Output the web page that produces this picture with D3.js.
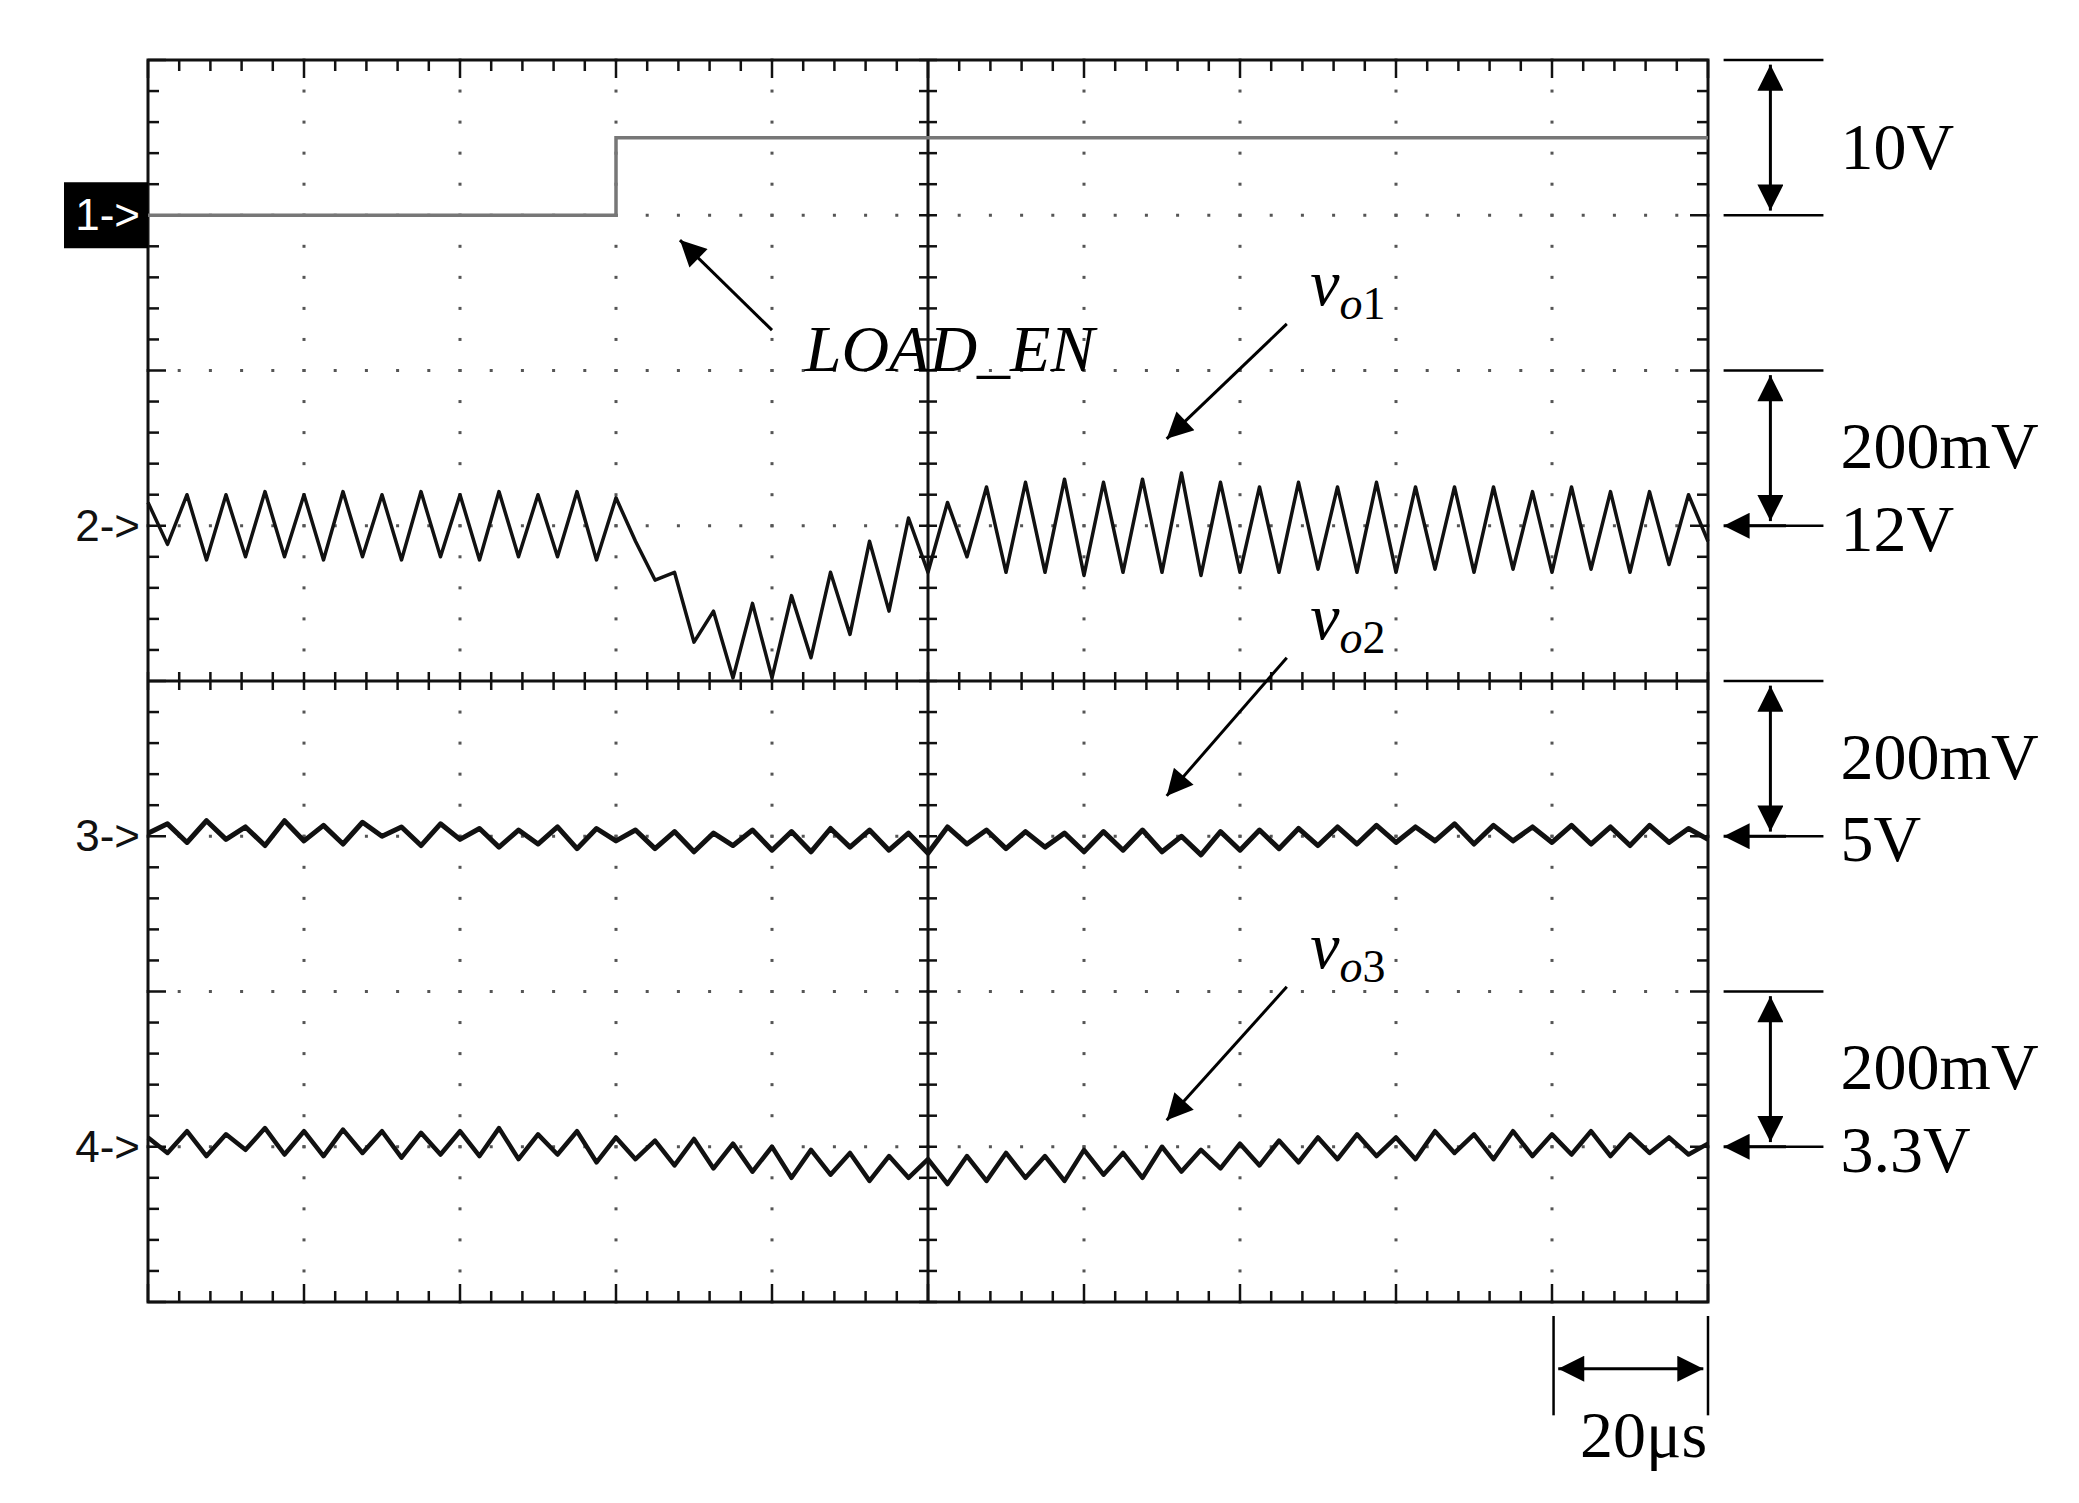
<!DOCTYPE html>
<html><head><meta charset="utf-8">
<script src="https://cdn.jsdelivr.net/npm/d3@7"></script>
<style>body{margin:0;background:#fff}</style>
</head><body>
<div id="chart"></div>
<script>
// trace data, in divisions, relative to each channel's ground marker
var ch1Times = [0, 3, 3, 10];
var ch1Levels = [0, 0, 0.5, 0.5];

var ch2Values = [0.15,-0.12,0.2,-0.22,0.2,-0.2,0.22,-0.2,0.2,-0.22,0.22,-0.2,0.2,-0.22,0.22,-0.2,0.2,-0.22,0.22,-0.2,0.2,-0.2,0.22,-0.22,0.18,
  -0.1,-0.35,-0.3,-0.75,-0.55,-0.98,-0.5,-0.98,-0.45,-0.85,-0.3,-0.7,-0.1,-0.55,0.05,-0.3,
  0.15,-0.2,0.25,-0.3,0.28,-0.3,0.3,-0.32,0.28,-0.3,0.3,-0.3,0.34,-0.32,0.28,-0.3,0.25,-0.3,0.28,-0.28,
  0.25,-0.3,0.28,-0.3,0.25,-0.28,0.25,-0.3,0.25,-0.28,0.22,-0.3,0.25,-0.28,0.22,-0.3,0.22,-0.25,0.2,-0.1];

var ch3Values = [0.02,0.08,-0.04,0.1,-0.02,0.06,-0.06,0.1,-0.03,0.07,-0.05,0.09,0.0,0.06,-0.06,0.08,-0.02,0.05,-0.07,0.04,
  -0.05,0.06,-0.08,0.05,-0.03,0.04,-0.08,0.03,-0.1,0.02,-0.06,0.04,-0.09,0.03,-0.1,0.05,-0.07,0.04,-0.09,0.02,
  -0.11,0.06,-0.05,0.04,-0.08,0.03,-0.07,0.02,-0.1,0.03,-0.09,0.04,-0.1,0.0,-0.12,0.03,-0.09,0.04,-0.08,0.05,
  -0.06,0.06,-0.05,0.07,-0.04,0.06,-0.03,0.08,-0.05,0.07,-0.03,0.06,-0.04,0.07,-0.05,0.06,-0.06,0.07,-0.04,0.05,-0.02];

var ch4Values = [0.06,-0.04,0.1,-0.06,0.08,-0.02,0.12,-0.05,0.1,-0.06,0.11,-0.04,0.1,-0.07,0.09,-0.05,0.1,-0.06,0.12,-0.08,
  0.08,-0.05,0.1,-0.1,0.06,-0.08,0.04,-0.12,0.05,-0.14,0.02,-0.16,0.0,-0.2,-0.02,-0.18,-0.04,-0.22,-0.06,-0.2,
  -0.08,-0.24,-0.06,-0.22,-0.04,-0.2,-0.06,-0.22,-0.02,-0.18,-0.04,-0.2,0.0,-0.16,-0.02,-0.14,0.02,-0.12,0.04,-0.1,
  0.06,-0.08,0.08,-0.06,0.06,-0.08,0.1,-0.04,0.08,-0.08,0.1,-0.06,0.08,-0.05,0.1,-0.06,0.08,-0.04,0.06,-0.05,0.02];

var channelNames = ["1->", "2->", "3->", "4->"];
var channelLevels = [7, 5, 3, 1];

var W = 2079, H = 1503;
var svg = d3.select("#chart").append("svg").attr("width", W).attr("height", H);
var x = d3.scaleLinear().domain([0, 10]).range([148, 1708]);
var y = d3.scaleLinear().domain([0, 8]).range([1302, 60]);

var grid = svg.append("g");
// dotted grid
for (var i = 1; i < 10; i++) {
  if (i === 5) continue;
  for (var j = 0; j <= 40; j++)
    grid.append("rect").attr("x", x(i) - 1.5).attr("y", y(j * 0.2) - 1.5).attr("width", 3).attr("height", 3).attr("fill", "#555");
}
for (var j = 1; j < 8; j++) {
  if (j === 4) continue;
  for (var i = 0; i <= 50; i++)
    grid.append("rect").attr("x", x(i * 0.2) - 1.5).attr("y", y(j) - 1.5).attr("width", 3).attr("height", 3).attr("fill", "#555");
}
// frame + centre axes
grid.append("rect").attr("x", x(0)).attr("y", y(8)).attr("width", x(10) - x(0)).attr("height", y(0) - y(8))
  .attr("fill", "none").attr("stroke", "#111").attr("stroke-width", 3);
grid.append("line").attr("x1", x(5)).attr("x2", x(5)).attr("y1", y(0)).attr("y2", y(8)).attr("stroke", "#111").attr("stroke-width", 3);
grid.append("line").attr("x1", x(0)).attr("x2", x(10)).attr("y1", y(4)).attr("y2", y(4)).attr("stroke", "#111").attr("stroke-width", 3);
// ticks
for (var i = 0; i <= 50; i++) {
  var t = i * 0.2, len = (i % 5 === 0) ? 18 : 11;
  [[y(8), 1], [y(0), -1]].forEach(function (p) {
    grid.append("line").attr("x1", x(t)).attr("x2", x(t)).attr("y1", p[0]).attr("y2", p[0] + p[1] * len).attr("stroke", "#111").attr("stroke-width", 2.5);
  });
  grid.append("line").attr("x1", x(t)).attr("x2", x(t)).attr("y1", y(4) - 9).attr("y2", y(4) + 9).attr("stroke", "#111").attr("stroke-width", 2.5);
}
for (var j = 0; j <= 40; j++) {
  var v = j * 0.2, len = (j % 5 === 0) ? 18 : 11;
  grid.append("line").attr("x1", x(0)).attr("x2", x(0) + len).attr("y1", y(v)).attr("y2", y(v)).attr("stroke", "#111").attr("stroke-width", 2.5);
  grid.append("line").attr("x1", x(10)).attr("x2", x(10) - len).attr("y1", y(v)).attr("y2", y(v)).attr("stroke", "#111").attr("stroke-width", 2.5);
  grid.append("line").attr("x1", x(5) - 9).attr("x2", x(5) + 9).attr("y1", y(v)).attr("y2", y(v)).attr("stroke", "#111").attr("stroke-width", 2.5);
}

// traces
var line = d3.line().x(function (d) { return x(d[0]); }).y(function (d) { return y(d[1]); });
svg.append("path").attr("d", line(ch1Times.map(function (t, k) { return [t, channelLevels[0] + ch1Levels[k]]; })))
  .attr("fill", "none").attr("stroke", "#777").attr("stroke-width", 3.5);
function trace(vals, level, sw) {
  var n = vals.length;
  svg.append("path").attr("d", line(vals.map(function (v, k) { return [k * 10 / (n - 1), level + v]; })))
    .attr("fill", "none").attr("stroke", "#111").attr("stroke-width", sw).attr("stroke-linejoin", "round");
}
trace(ch2Values, channelLevels[1], 3.5);
trace(ch3Values, channelLevels[2], 5);
trace(ch4Values, channelLevels[3], 4.5);

// channel markers
svg.append("rect").attr("x", 64).attr("y", y(7) - 33).attr("width", 84).attr("height", 66).attr("fill", "#000");
channelNames.forEach(function (nm, k) {
  svg.append("text").attr("x", 140).attr("y", y(channelLevels[k]) + 15).attr("text-anchor", "end")
    .attr("font-family", "Liberation Sans, Arial, sans-serif").attr("font-size", 44)
    .attr("fill", k === 0 ? "#fff" : "#111").text(nm);
});

// arrow marker
var defs = svg.append("defs");
defs.append("marker").attr("id", "ah").attr("viewBox", "0 0 10 10").attr("refX", 10).attr("refY", 5)
  .attr("markerWidth", 34).attr("markerHeight", 26).attr("markerUnits", "userSpaceOnUse").attr("orient", "auto-start-reverse")
  .append("path").attr("d", "M0,0 L10,5 L0,10 z").attr("fill", "#000");

function arrow(x1, y1, x2, y2, both) {
  var l = svg.append("line").attr("x1", x(x1)).attr("y1", y(y1)).attr("x2", x(x2)).attr("y2", y(y2))
    .attr("stroke", "#000").attr("stroke-width", 3).attr("marker-end", "url(#ah)");
  if (both) l.attr("marker-start", "url(#ah)");
}
function hline(x1, x2, yy) {
  svg.append("line").attr("x1", x(x1)).attr("x2", x(x2)).attr("y1", y(yy)).attr("y2", y(yy)).attr("stroke", "#000").attr("stroke-width", 2.5);
}
var serif = "Liberation Serif, Times New Roman, serif";
function label(tx, ty, s, italic) {
  return svg.append("text").attr("x", x(tx)).attr("y", y(ty)).attr("font-family", serif).attr("font-size", 66)
    .attr("font-style", italic ? "italic" : "normal").attr("fill", "#000").text(s);
}

// right-side scale brackets
var scaleTexts = ["10V", "200mV", "200mV", "200mV"];
var refTexts = [null, "12V", "5V", "3.3V"];
hline(10.1, 10.74, 8); hline(10.1, 10.74, 7);
arrow(10.4, 7.03, 10.4, 7.97, true);
label(10.85, 7.3, scaleTexts[0]);
[5, 3, 1].forEach(function (lv, k) {
  hline(10.1, 10.74, lv + 1);
  arrow(10.4, lv + 0.03, 10.4, lv + 0.97, true);
  hline(10.25, 10.74, lv);
  arrow(10.5, lv, 10.1, lv, false);
  label(10.85, lv + 0.37, scaleTexts[k + 1]);
  label(10.85, lv - 0.16, refTexts[k + 1]);
});

// time scale
[9.01, 10.0].forEach(function (t) {
  svg.append("line").attr("x1", x(t)).attr("x2", x(t)).attr("y1", y(-0.09)).attr("y2", y(-0.73)).attr("stroke", "#000").attr("stroke-width", 2.5);
});
arrow(9.04, -0.43, 9.97, -0.43, true);
label(9.18, -1.0, "20μs");

// annotations
arrow(4.0, 6.26, 3.41, 6.84, false);
label(4.21, 6.0, "LOAD_EN", true);
[[6.42, 5.56, "1"], [4.27, 3.26, "2"], [2.15, 1.17, "3"]].forEach(function (a) {
  var t = label(7.45, a[0], "", true);
  t.append("tspan").text("v");
  t.append("tspan").attr("font-size", 46).attr("dy", 14).text("o");
  t.append("tspan").attr("font-size", 46).attr("font-style", "normal").text(a[2]);
  arrow(7.3, a[0] - 0.12, 6.53, a[1], false);
});
</script>
</body></html>
